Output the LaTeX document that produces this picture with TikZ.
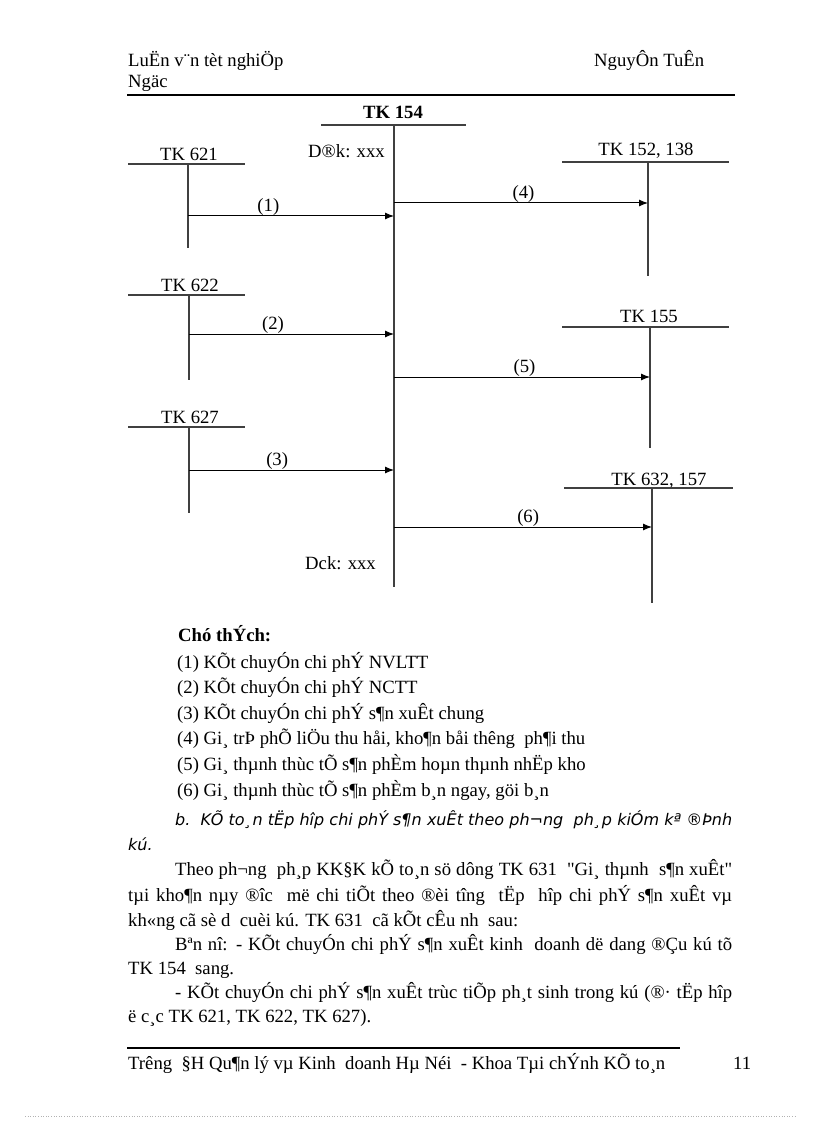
\documentclass[tikz,border=0pt]{standalone}
\usepackage{fontspec}
\setmainfont{Liberation Serif}[Ligatures=TeXOff]
\newfontfamily\obliquefont{DejaVu Sans}
\usetikzlibrary{arrows.meta}
\tikzset{
  acc/.style={anchor=base, inner sep=0pt},
  txt/.style={anchor=base west, inner sep=0pt},
  tline/.style={line width=1.4pt, black!75},
  flow/.style={line width=1pt, -{Latex[length=9pt,width=7pt]}},
  lbl/.style={above, inner sep=0pt},
  pagerule/.style={line width=2.4pt}
}
\newcommand{\oblq}{\obliquefont\itshape\fontsize{16}{20}\selectfont}
\begin{document}
\begin{tikzpicture}[x=1pt,y=-1pt,font=\fontsize{18.7}{24}\selectfont]
  \useasboundingbox (0,0) rectangle (816,1123);
  % header
  \node[txt] (hd1) at (128,67) {LuËn v¨n tèt nghiÖp};
  \node[txt] (hd2) at (128,88) {Ngäc};
  \node[txt] (hd3) at (594,67) {NguyÔn TuÊn};
  \draw[pagerule] (127,95) -- (735,95);

  % account titles
  \draw
    (393,119) node[acc] (t154){\bfseries TK 154}
    (189,161) node[acc] (t621){TK 621}
    (190,291) node[acc] (t622){TK 622}
    (190,423) node[acc] (t627){TK 627}
    (646,156) node[acc] (t152){TK 152, 138}
    (649,322) node[acc] (t155){TK 155}
    (659,485) node[acc] (t632){TK 632, 157};
  \node[txt] (dk) at (308,158) {D®k: xxx};
  \node[txt] (ck) at (305,569) {Dck: xxx};

  % trunks
  \coordinate (t154a) at (394,125);  \coordinate (t154b) at (394,587);
  \coordinate (t621a) at (188,164);  \coordinate (t621b) at (188,248);
  \coordinate (t622a) at (189,295);  \coordinate (t622b) at (189,380);
  \coordinate (t627a) at (189,427);  \coordinate (t627b) at (189,513);
  \coordinate (t152a) at (648,162);  \coordinate (t152b) at (648,276);
  \coordinate (t155a) at (650,327);  \coordinate (t155b) at (650,448);
  \coordinate (t632a) at (652,488);  \coordinate (t632b) at (652,603);
  \begin{scope}[tline]
    \draw (321,125) -- (466,125);
    \draw (128,164) -- (245,164);
    \draw (128,295) -- (245,295);
    \draw (128,427) -- (245,427);
    \draw (562,162) -- (729,162);
    \draw (562,327) -- (729,327);
    \draw (564,488) -- (733,488);
    \draw (t154a) -- (t154b);
    \draw (t621a) -- (t621b);
    \draw (t622a) -- (t622b);
    \draw (t627a) -- (t627b);
    \draw (t152a) -- (t152b);
    \draw (t155a) -- (t155b);
    \draw (t632a) -- (t632b);
  \end{scope}

  % entries
  \coordinate (s1) at (188,216);  \coordinate (e1) at (394,216);
  \coordinate (s2) at (189,334);  \coordinate (e2) at (394,334);
  \coordinate (s3) at (189,470);  \coordinate (e3) at (394,470);
  \coordinate (s4) at (394,203);  \coordinate (e4) at (648,203);
  \coordinate (s5) at (394,377);  \coordinate (e5) at (650,377);
  \coordinate (s6) at (394,527);  \coordinate (e6) at (652,527);
  \begin{scope}[flow]
    \draw (s1) to node[lbl,pos=0.39] (n1){(1)} (e1);
    \draw (s2) to node[lbl,pos=0.41] (n2){(2)} (e2);
    \draw (s3) to node[lbl,pos=0.43] (n3){(3)} (e3);
    \draw (s4) to node[lbl,pos=0.51] (n4){(4)} (e4);
    \draw (s5) to node[lbl,pos=0.51] (n5){(5)} (e5);
    \draw (s6) to node[lbl,pos=0.52] (n6){(6)} (e6);
  \end{scope}

  % legend
  \node[txt] (cth) at (178,641) {\bfseries Chó thÝch:};
  \node[txt] (c1) at (177,668) {(1) KÕt chuyÓn chi phÝ NVLTT};
  \node[txt] (c2) at (177,693) {(2) KÕt chuyÓn chi phÝ NCTT};
  \node[txt] (c3) at (177,719) {(3) KÕt chuyÓn chi phÝ s¶n xuÊt chung};
  \node[txt] (c4) at (177,744) {(4) Gi¸ trÞ phÕ liÖu thu håi, kho¶n båi thêng \ ph¶i thu};
  \node[txt] (c5) at (177,770) {(5) Gi¸ thµnh thùc tÕ s¶n phÈm hoµn thµnh nhËp kho};
  \node[txt] (c6) at (177,796) {(6) Gi¸ thµnh thùc tÕ s¶n phÈm b¸n ngay, göi b¸n};

  % text below
  \node[txt] (b1) at (175,825) {\oblq\makebox[557pt][s]{b.\ \ KÕ to¸n tËp hîp chi phÝ s¶n xuÊt theo ph¬ng \ ph¸p kiÓm kª ®Þnh}};
  \node[txt] (b2) at (128,850) {\oblq kú.};
  \node[txt] (p1) at (175,875) {\makebox[557pt][s]{Theo ph¬ng \ ph¸p KK§K kÕ to¸n sö dông TK 631 \ "Gi¸ thµnh \ s¶n xuÊt"}};
  \node[txt] (p2) at (128,901) {\makebox[604pt][s]{tµi kho¶n nµy ®îc \ më chi tiÕt theo ®èi tîng \ tËp \ hîp chi phÝ s¶n xuÊt vµ}};
  \node[txt] (p3) at (128,926) {kh«ng cã sè d \ cuèi kú. TK 631 \ cã kÕt cÊu nh \ sau:};
  \node[txt] (p4) at (175,950) {\makebox[557pt][s]{Bªn nî: - KÕt chuyÓn chi phÝ s¶n xuÊt kinh \ doanh dë dang ®Çu kú tõ}};
  \node[txt] (p5) at (128,974) {TK 154 \ sang.};
  \node[txt] (p6) at (175,998) {\makebox[557pt][s]{- KÕt chuyÓn chi phÝ s¶n xuÊt trùc tiÕp ph¸t sinh trong kú (®· tËp hîp}};
  \node[txt] (p7) at (128,1022) {ë c¸c TK 621, TK 622, TK 627).};

  % footer
  \draw[pagerule] (127,1048) -- (680,1048);
  \node[txt] (ft) at (128,1069) {Trêng \ §H Qu¶n lý vµ Kinh \ doanh Hµ Néi \ - Khoa Tµi chÝnh KÕ to¸n};
  \node[txt] (pg) at (733,1069) {11};
  \draw[black!30, dotted, line width=0.6pt] (25,1116) -- (795,1116);
\end{tikzpicture}
\end{document}
